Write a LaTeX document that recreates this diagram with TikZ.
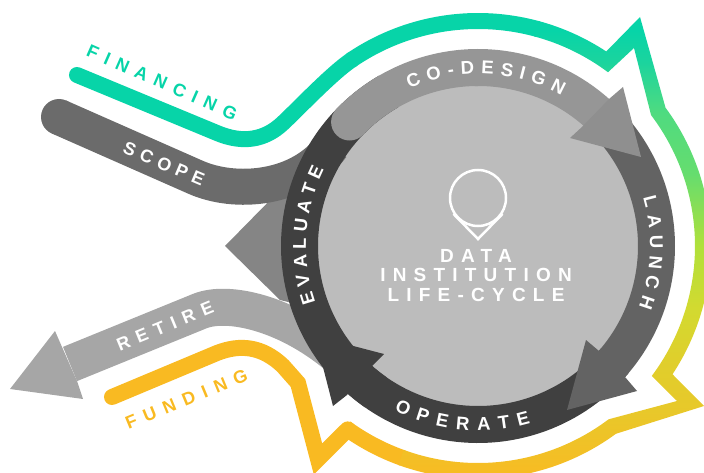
\documentclass[tikz,border=0pt]{standalone}
\usepackage{fontspec}
\setmainfont{Liberation Sans}
\usetikzlibrary{calc,decorations.text}
\definecolor{teal1}{HTML}{07D4A8}
\definecolor{gold1}{HTML}{F9BA22}
\definecolor{gA}{HTML}{07D4A8}
\definecolor{gB}{HTML}{1BD49E}
\definecolor{gC}{HTML}{4FDB80}
\definecolor{gD}{HTML}{66DD6E}
\definecolor{gE}{HTML}{B0E03A}
\definecolor{gF}{HTML}{D2DA30}
\definecolor{gG}{HTML}{DFCF2C}
\definecolor{gH}{HTML}{E8C82A}
\definecolor{gI}{HTML}{F2C026}
\definecolor{gJ}{HTML}{F9BA22}
\definecolor{discgray}{HTML}{BCBCBC}
\definecolor{codesign}{HTML}{969696}
\definecolor{codehead}{HTML}{8F8F8F}
\definecolor{launchc}{HTML}{636363}
\definecolor{darkc}{HTML}{404040}
\definecolor{scopec}{HTML}{6B6B6B}
\definecolor{retirec}{HTML}{A6A6A6}
\definecolor{headc}{HTML}{858585}
\pgfdeclareverticalshading{outerg}{100bp}{
 color(0bp)=(gJ); color(26bp)=(gJ); color(29.2bp)=(gI); color(33.5bp)=(gH); color(39bp)=(gG);
 color(44.4bp)=(gF); color(50.9bp)=(gE); color(58.4bp)=(gD); color(64.9bp)=(gC); color(70.3bp)=(gB);
 color(73.6bp)=(gA); color(100bp)=(gA)}
\newcommand{\ringfont}{\bfseries\fontsize{18.5}{19}\selectfont}
\tikzset{
 band/.style={line width=37pt,line cap=butt},
 stripe/.style={line width=16pt,line join=miter,miter limit=20},
 flatlabel/.style={inner sep=0pt,font=\bfseries\fontsize{18}{19}\selectfont},
 ringtext/.style={decorate,decoration={text along path,text align={fit to path},text={|\color{white}\ringfont|#1}}}
}
\begin{document}
\begin{tikzpicture}[x=1pt,y=-1pt]
\useasboundingbox (0,0) rectangle (704,473);
\coordinate (c) at (478,246);
% disc
\fill[discgray] (c) circle[radius=170];
% grey arrow head of scope
\fill[headc] (225,246) -- (280,190) -- (300,190) -- (300,305) -- (280,300) -- cycle;
% retire
\coordinate (r1) at (70,364);
\coordinate (r2) at (200,311);
\coordinate (r3) at (335,354);
\draw[retirec,band] (r1) -- (r2) .. controls (228,300) and (285,313) .. (r3);
\fill[retirec] (10,389) -- (55,331) -- (62,347) -- (77,381) -- (83,399) -- cycle;
% scope
\coordinate (s1) at (59,117);
\coordinate (s2) at (195,177);
\coordinate (s3) at (332,146);
\fill[scopec] (s1) circle[radius=18];
\draw[scopec,band,line width=36pt] (s1) -- (s2) .. controls (235,195) and (300,190) .. (s3);
% ring: evaluate, operate, launch, co-design
\draw[darkc,band] ($(c)+(125:178.5)$) arc[start angle=125,end angle=240,radius=178.5];
\draw[darkc,band] ($(c)+(40:178.5)$) arc[start angle=40,end angle=132,radius=178.5];
\fill[darkc] (384,354) -- (315,336) -- (333,406) -- (347,395) -- (372,366) -- cycle;
\draw[launchc,band] ($(c)+(-42:178.5)$) arc[start angle=-42,end angle=42,radius=178.5];
\fill[launchc] (586,340) -- (567,410) -- (637,391) -- (625,377) -- (599,351) -- cycle;
\draw[codesign,band,line cap=round] ($(c)+(-136:178.5)$) arc[start angle=-136,end angle=-90,radius=178.5];
\draw[codesign,band] ($(c)+(-91:178.5)$) arc[start angle=-91,end angle=-48,radius=178.5];
\fill[codehead] (623,87) -- (641,157) -- (570,138) -- (583,126) -- (609,99) -- cycle;
% financing stripe
\coordinate (f1) at (77,75);
\coordinate (f2) at (217,133);
\coordinate (f3) at (283,123);
\draw[teal1,stripe,line cap=round] (f1) -- (f2) .. controls (243,144) and (265,140) .. (f3)
  .. controls (300,107) and (332,73) .. ($(c)+(-124:225)$);
\draw[teal1,stripe] ($(c)+(-124.5:225)$) arc[start angle=-124.5,end angle=-74.5,radius=225];
% funding stripe
\coordinate (g1) at (112,397);
\coordinate (g2) at (217,353);
\coordinate (g3) at (298,383);
\coordinate (g4) at (318,459);
\draw[gold1,stripe,line cap=round] (g1) -- (g2) .. controls (240,344) and (262,346) .. (283,366) -- (g3) -- (g4) -- ($(c)+(125.4:225)$);
\draw[gold1,stripe] ($(c)+(126:225)$) arc[start angle=126,end angle=109.5,radius=225];
% gradient part of the stripe
\shade[shading=outerg] ($(c)+(-75:233)$) arc[start angle=-75,end angle=-56.6,radius=233]
  -- (640,17) -- ($(c)+(-36.4:233)$) arc[start angle=-36.4,end angle=33.4,radius=233]
  -- (704,406) -- ($(c)+(53.7:233)$) arc[start angle=53.7,end angle=110,radius=233]
  -- ($(c)+(110:217)$) arc[start angle=110,end angle=53,radius=217]
  -- (677,401) -- ($(c)+(36.8:217)$) arc[start angle=36.8,end angle=-37.1,radius=217]
  -- (634,48) -- ($(c)+(-53.2:217)$) arc[start angle=-53.2,end angle=-75,radius=217] -- cycle;
% pin icon
\node[circle,draw=white,line width=2.5pt,minimum size=56pt,inner sep=0pt] (pin) at (478,198) {};
\coordinate (pinapex) at (478,239);
\draw[white,line width=2.5pt,line join=miter] (pin.-147) -- (pinapex) -- (pin.-33);
% ring labels
\path[ringtext=CO-DESIGN] ($(c)+(-113.5:172)$) arc[start angle=-113.5,end angle=-61,radius=172];
\path[ringtext=LAUNCH] ($(c)+(-16.3:172)$) arc[start angle=-16.3,end angle=20.8,radius=172];
\path[ringtext=EVALUATE] ($(c)+(161:172)$) arc[start angle=161,end angle=206.5,radius=172];
\path[ringtext=OPERATE] ($(c)+(117:184.5)$) arc[start angle=117,end angle=73.5,radius=184.5];
% straight labels
\node[flatlabel,text=teal1,rotate=-23.7] (fin) at (162,82.5) {\addfontfeature{LetterSpace=43}FINANCING};
\node[flatlabel,text=white,rotate=-23] (sco) at (164,164) {\addfontfeature{LetterSpace=32}SCOPE};
\node[flatlabel,text=white,rotate=22.4] (ret) at (165,326) {\addfontfeature{LetterSpace=41}RETIRE};
\node[flatlabel,text=gold1,rotate=22.5] (fun) at (186.5,399) {\addfontfeature{LetterSpace=45}FUNDING};
% centre title
\node[inner sep=0pt,text=white,align=center,font=\bfseries\fontsize{19}{19.5}\selectfont\addfontfeature{LetterSpace=38}] (title) at (476,275.5) {DATA\\INSTITUTION\\LIFE-CYCLE};
\end{tikzpicture}
\end{document}
